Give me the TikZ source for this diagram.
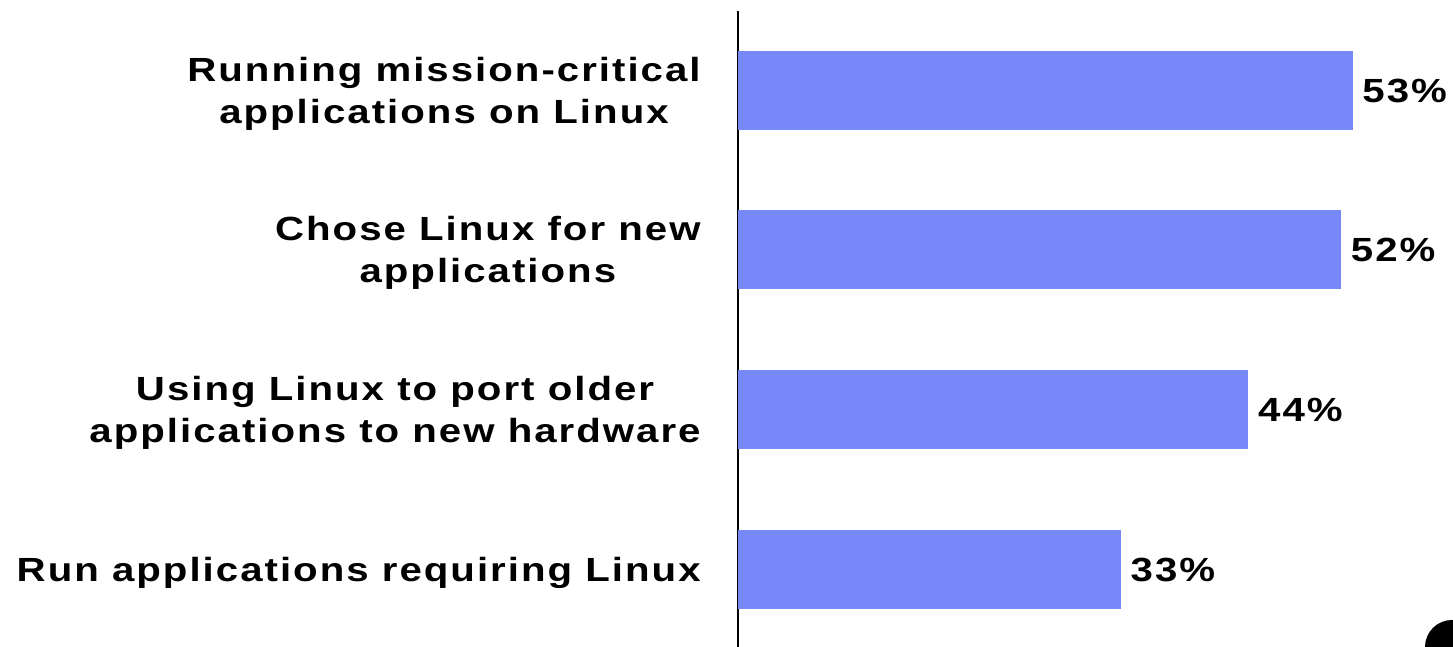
\documentclass[tikz,border=0pt]{standalone}
\usepackage{fontspec}
\newfontfamily\chartfont{Liberation Sans}[FakeStretch=1.2, LetterSpace=6]
\usetikzlibrary{positioning}
\definecolor{barblue}{HTML}{7788F8}
\tikzset{
  bar/.style={rectangle, fill=barblue, inner sep=0, minimum height=39.5pt, anchor=west},
  category/.style={align=center, inner sep=0, yshift=-1.5pt, font=\chartfont\fontsize{16.75}{21}\selectfont\bfseries},
  percent/.style={inner sep=0, font=\chartfont\fontsize{16.75}{21}\selectfont\bfseries}
  }

\begin{document}
\begin{tikzpicture}[x=0.5pt, y=0.5pt]
	% Frame
	\clip (0,0) rectangle (1453,647);
	\useasboundingbox (0,0) rectangle (1453,647);

	% Axis
	\coordinate (top) at (738,636);
	\coordinate (bottom) at (738,0);
	\draw [line width=1.1pt] (top) -- (bottom);

	% Bars
	\node[bar, minimum width=53*5.795pt] (bar1) at (738,556) {};
	\node[bar, minimum width=52*5.795pt] (bar2) at (738,397) {};
	\node[bar, minimum width=44*5.795pt] (bar3) at (738,237) {};
	\node[bar, minimum width=33*5.795pt] (bar4) at (738,77) {};

	% Labels
	\node[category, left = 18.5pt of bar1] (mission) {Running mission-critical\\applications on Linux};
	\node[category, left = 18.5pt of bar2] (chose) {Chose Linux for new\\applications};
	\node[category, left = 18.5pt of bar3] (port) {Using Linux to port older\\applications to new hardware};
	\node[category, left = 18.5pt of bar4] (run) {Run applications requiring Linux};

	\node[percent, right = 4.5pt of bar1] (pct1) {53\%};
	\node[percent, right = 4.5pt of bar2] (pct2) {52\%};
	\node[percent, right = 4.5pt of bar3] (pct3) {44\%};
	\node[percent, right = 4.5pt of bar4] (pct4) {33\%};

	% Etc.
	\fill (1452,0) circle (27);
\end{tikzpicture}
\end{document}
